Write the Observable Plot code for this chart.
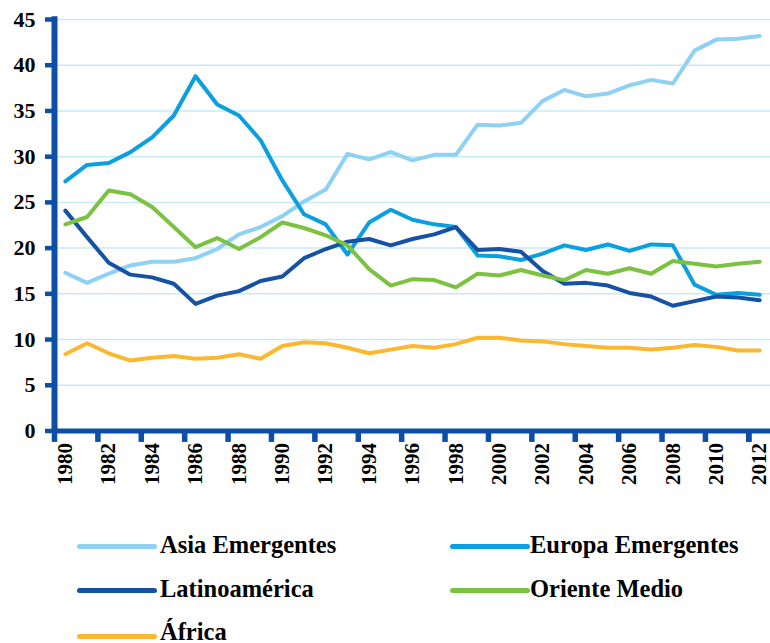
<!DOCTYPE html>
<html>
<head>
<meta charset="utf-8">
<script src="https://cdn.jsdelivr.net/npm/d3@7"></script>
<script src="https://cdn.jsdelivr.net/npm/@observablehq/plot@0.6"></script>
<style>
  html, body { margin: 0; padding: 0; background: #fff; }
  #wrap { position: relative; width: 770px; height: 643px; overflow: hidden; }
  #chart { position: absolute; left: 0; top: 0; }
  .lg-bar { position: absolute; height: 5px; border-radius: 3px; width: 80px; }
  .lg-txt { position: absolute; font-family: "Liberation Serif", "DejaVu Serif", "Noto Serif", serif; font-weight: bold;
            font-size: 24.5px; line-height: 24.5px; color: #000; white-space: nowrap; }
</style>
</head>
<body>
<div id="wrap"><div id="chart"></div><div id="legend"></div></div>
<script>
// ---- data ----
const years = [1980,1981,1982,1983,1984,1985,1986,1987,1988,1989,1990,1991,1992,1993,1994,1995,1996,
               1997,1998,1999,2000,2001,2002,2003,2004,2005,2006,2007,2008,2009,2010,2011,2012];
const xTickLabels = [1980,1982,1984,1986,1988,1990,1992,1994,1996,1998,2000,2002,2004,2006,2008,2010,2012];
const yTickLabels = [0,5,10,15,20,25,30,35,40,45];
const seriesNames = ["Asia Emergentes","Europa Emergentes","Latinoamérica","Oriente Medio","África"];

const asiaEmergentes = [17.3,16.2,17.2,18.1,18.5,18.5,18.9,19.9,21.5,22.3,23.5,25.1,26.4,30.3,29.7,30.5,29.6,
                        30.2,30.2,33.5,33.4,33.7,36.1,37.3,36.6,36.9,37.8,38.4,38.0,41.6,42.8,42.9,43.2];
const europaEmergentes = [27.3,29.1,29.3,30.5,32.1,34.5,38.8,35.7,34.5,31.8,27.4,23.7,22.6,19.3,22.8,24.2,23.1,
                          22.6,22.3,19.2,19.1,18.7,19.4,20.3,19.8,20.4,19.7,20.4,20.3,16.0,14.9,15.1,14.9];
const latinoamerica = [24.1,21.2,18.4,17.1,16.8,16.1,13.9,14.8,15.3,16.4,16.9,18.9,19.9,20.7,21.0,20.3,21.0,
                       21.5,22.3,19.8,19.9,19.6,17.5,16.1,16.2,15.9,15.1,14.7,13.7,14.2,14.7,14.6,14.3];
const orienteMedio = [22.6,23.4,26.3,25.9,24.5,22.3,20.1,21.1,19.9,21.2,22.8,22.2,21.4,20.3,17.7,15.9,16.6,
                      16.5,15.7,17.2,17.0,17.6,17.0,16.5,17.6,17.2,17.8,17.2,18.6,18.3,18.0,18.3,18.5];
const africa = [8.4,9.6,8.5,7.7,8.0,8.2,7.9,8.0,8.4,7.9,9.3,9.7,9.6,9.1,8.5,8.9,9.3,
                9.1,9.5,10.2,10.2,9.9,9.8,9.5,9.3,9.1,9.1,8.9,9.1,9.4,9.2,8.8,8.8];

const seriesValues = [asiaEmergentes, europaEmergentes, latinoamerica, orienteMedio, africa];
const seriesColors = ["#8ed1f3", "#0a9fe0", "#1552a3", "#7cc242", "#fbb82f"];
const axisColor = "#0d4ea6";
const gridColor = "#c6eaf8";
const serif = "'Liberation Serif', 'DejaVu Serif', 'Noto Serif', serif";

const data = seriesNames.flatMap((name, i) =>
  seriesValues[i].map((v, j) => ({series: name, year: years[j], value: v})));
// category boundaries between every two years (tick marks)
const tickBounds = xTickLabels.map(y => y - 0.5).concat([2011.5]);

const chart = Plot.plot({
  width: 770,
  height: 525,
  marginLeft: 54,
  marginRight: 0,
  marginTop: 19,
  marginBottom: 94.5,
  style: {fontFamily: serif, fontWeight: "bold", background: "white", color: "black", overflow: "visible"},
  x: {domain: [1979.5, 2012.5], axis: null},
  y: {domain: [0, 45], axis: null},
  color: {domain: seriesNames, range: seriesColors},
  marks: [
    Plot.ruleY(yTickLabels.filter(d => d > 0), {stroke: gridColor, strokeWidth: 1.5}),
    Plot.line(data, {x: "year", y: "value", stroke: "series", z: "series", strokeWidth: 4,
                     strokeLinejoin: "round", strokeLinecap: "round"}),
    Plot.ruleX(tickBounds, {x: d => d, y1: 0, y2: -1.25, stroke: axisColor, strokeWidth: 5.5}),
    Plot.ruleY([0], {x1: 1979.5, x2: 2012.5, stroke: axisColor, strokeWidth: 5}),
    Plot.ruleX([1979.5], {y1: 45.3, y2: -0.25, stroke: axisColor, strokeWidth: 6}),
    Plot.axisY({ticks: yTickLabels, tickSize: 9, tickPadding: 10, stroke: axisColor, strokeWidth: 4.5,
                fontSize: 22, fontFamily: serif, tickFormat: d => String(d), label: null}),
    Plot.axisX({ticks: xTickLabels, tickSize: 0, tickRotate: -90, tickPadding: 12, fontSize: 21,
                fontFamily: serif, tickFormat: d => String(d), label: null})
  ]
});
document.getElementById("chart").appendChild(chart);

// ---- legend ----
const legend = document.getElementById("legend");
const legendPos = [
  {bar: 77, txt: 160, row: 0}, {bar: 450, txt: 530, row: 0},
  {bar: 77, txt: 160, row: 1}, {bar: 450, txt: 530, row: 1},
  {bar: 77, txt: 160, row: 2}
];
const rowCenters = [546, 590, 636];
const rowBaselines = [553, 597, 640];
seriesNames.forEach((name, i) => {
  const p = legendPos[i];
  const bar = document.createElement("div");
  bar.className = "lg-bar";
  bar.style.left = p.bar + "px";
  bar.style.top = (rowCenters[p.row] - 2.5) + "px";
  bar.style.background = seriesColors[i];
  legend.appendChild(bar);
  const t = document.createElement("div");
  t.className = "lg-txt";
  t.style.left = p.txt + "px";
  t.style.top = (rowBaselines[p.row] - 20.5) + "px";
  t.textContent = name;
  legend.appendChild(t);
});
</script>
</body>
</html>
